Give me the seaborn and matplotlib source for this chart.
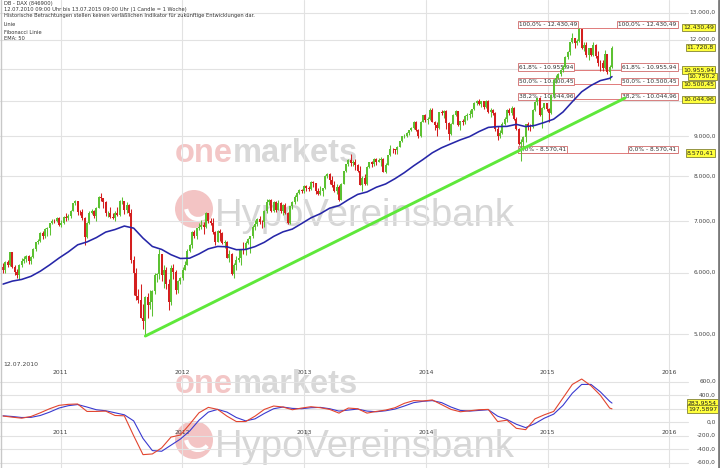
import numpy as np
import pandas as pd
import matplotlib
matplotlib.use("Agg")
import matplotlib.pyplot as plt
import matplotlib.transforms as mtransforms
from matplotlib.patches import Circle, Arc
from matplotlib.lines import Line2D
import seaborn as sns

# ==========================================================
# DATA  (DAX weekly candles 12.07.2010 - 13.07.2015)
# ==========================================================

first_open = 6100

closes = [
    # 2010
    6040, 6194, 6147, 6376, 6110, 6005, 5951, 6135, 6215, 6250, 6298, 6211, 6284,
    6432, 6568, 6601, 6750, 6683, 6826, 6850, 6947, 7007, 6992, 7057, 6914,
    # 2011
    6947, 7076, 7062, 7102, 7216, 7371, 7426, 7185, 7178, 7064, 6664, 6946, 7176,
    7217, 7110, 7273, 7514, 7492, 7411, 7159, 7163, 7087, 7069, 7164, 7121, 7419,
    7419, 7220, 7344, 7158, 6236, 5997, 5602, 5538, 5246, 5190, 5574, 5458, 5502,
    5676, 5967, 5970, 6346, 5966, 6057, 5800, 5493, 6080, 6015, 5702, 5850, 5898,
    # 2012
    6057, 6143, 6404, 6512, 6766, 6692, 6848, 6864, 6921, 6880, 7157, 6996, 6947,
    6775, 6583, 6801, 6761, 6561, 6579, 6271, 6340, 5978, 6130, 6229, 6263, 6416,
    6410, 6557, 6630, 6689, 6865, 6944, 7040, 6971, 6970, 7214, 7412, 7451, 7216,
    7398, 7233, 7380, 7203, 7335, 7163, 6950, 7309, 7405, 7518, 7596, 7672, 7655, 7776,
    # 2013
    7715, 7702, 7857, 7833, 7652, 7593, 7661, 7708, 8004, 8043, 7912, 7795, 7659,
    7744, 7459, 7815, 8122, 8279, 8399, 8305, 8349, 8254, 8127, 7790, 7959, 7806,
    8212, 8331, 8300, 8403, 8338, 8392, 8417, 8104, 8275, 8510, 8676, 8661, 8636,
    8725, 8870, 9001, 9010, 9078, 9168, 9219, 9406, 9172, 9006, 9400, 9589, 9435,
    # 2014
    9473, 9743, 9392, 9306, 9240, 9662, 9656, 9692, 9351, 9057, 9343, 9588, 9695,
    9315, 9409, 9402, 9556, 9581, 9630, 9768, 9943, 9987, 9912, 9987, 9815, 10009,
    9666, 9720, 9644, 9210, 9010, 9093, 9340, 9470, 9747, 9651, 9799, 9490, 9195,
    8788, 8850, 8988, 9326, 9291, 9252, 9732, 9980, 10087, 9594, 9787, 9927, 9765,
    # 2015
    9648, 10168, 10649, 10694, 10846, 10963, 11050, 11402, 11551, 11901, 12040, 11868,
    11967, 12375, 11689, 11811, 11454, 11709, 11447, 11815, 11414, 11197, 11196, 11041,
    11492, 10890, 11059, 11721,
]

highs = [
    6170, 6210, 6240, 6390, 6390, 6140, 6060, 6150, 6260, 6300, 6330, 6330, 6310,
    6450, 6580, 6640, 6770, 6800, 6850, 6880, 6960, 7040, 7040, 7090, 7080,
    7010, 7100, 7160, 7140, 7240, 7390, 7440, 7430, 7230, 7250, 7090, 6970, 7210,
    7260, 7230, 7290, 7530, 7600, 7500, 7420, 7200, 7300, 7170, 7200, 7300, 7440,
    7520, 7430, 7400, 7370, 7250, 6300, 6080, 5720, 5800, 5460, 5600, 5650, 5700,
    5700, 5990, 6000, 6430, 6350, 6130, 6110, 5880, 6130, 6150, 6050, 5870, 5930,
    6110, 6210, 6430, 6540, 6790, 6820, 6860, 6960, 7010, 6980, 7190, 7160, 7050,
    7060, 6800, 6820, 6830, 6780, 6620, 6600, 6420, 6360, 6170, 6300, 6440, 6430,
    6580, 6600, 6660, 6700, 6920, 7010, 7060, 7100, 7020, 7220, 7470, 7480, 7470,
    7420, 7420, 7440, 7400, 7350, 7380, 7190, 7320, 7420, 7550, 7630, 7690, 7700, 7790,
    7790, 7760, 7880, 7870, 7840, 7720, 7770, 7730, 8020, 8060, 8070, 8010, 7870,
    7800, 7780, 7830, 8130, 8290, 8420, 8530, 8400, 8410, 8290, 8250, 8000, 8040,
    8230, 8350, 8360, 8440, 8430, 8430, 8460, 8430, 8310, 8520, 8770, 8700, 8680,
    8750, 8880, 9010, 9070, 9110, 9180, 9250, 9420, 9420, 9200, 9410, 9600, 9620,
    9520, 9790, 9790, 9430, 9380, 9670, 9720, 9730, 9720, 9380, 9370, 9610, 9720,
    9710, 9420, 9470, 9600, 9660, 9720, 9770, 9960, 10030, 10050, 10000, 10010, 10030,
    10030, 9780, 9750, 9670, 9270, 9170, 9400, 9530, 9760, 9800, 9860, 9810, 9530,
    9220, 8920, 9010, 9330, 9380, 9350, 9770, 10000, 10090, 10110, 9830, 9950, 9950,
    9800, 10200, 10660, 10810, 10880, 10990, 11130, 11420, 11600, 11920, 12220, 12060,
    12030, 12430, 12400, 11930, 11920, 11720, 11720, 11920, 11840, 11600, 11300, 11280,
    11640, 11500, 11140, 11760,
]

lows = [
    5990, 5990, 6100, 6120, 6080, 5960, 5900, 5890, 6100, 6170, 6200, 6150, 6150,
    6260, 6400, 6530, 6580, 6640, 6650, 6700, 6720, 6940, 6950, 6980, 6890,
    6880, 6930, 7000, 7010, 7050, 7200, 7330, 7130, 7130, 7020, 6510, 6650, 6930,
    7140, 7060, 6990, 7270, 7420, 7280, 7100, 7080, 7060, 7040, 7000, 7110, 7110,
    7350, 7140, 7170, 7100, 6180, 5610, 5540, 5480, 5240, 5080, 4966, 5250, 5390,
    5270, 5640, 5830, 5880, 5850, 5740, 5720, 5370, 5450, 5880, 5640, 5650, 5800,
    5870, 6040, 6140, 6380, 6460, 6650, 6640, 6810, 6830, 6740, 6860, 6950, 6920,
    6740, 6520, 6570, 6590, 6540, 6450, 6260, 6200, 5960, 5910, 6040, 6200, 6130,
    6350, 6330, 6530, 6360, 6650, 6820, 6890, 6940, 6860, 6870, 7160, 7340, 7180,
    7190, 7190, 7220, 7160, 7130, 7140, 6940, 6940, 7260, 7350, 7430, 7580, 7600, 7600,
    7640, 7640, 7680, 7740, 7580, 7560, 7550, 7530, 7690, 7940, 7820, 7750, 7630,
    7590, 7420, 7440, 7800, 8100, 8240, 8240, 8250, 8150, 8100, 7780, 7650, 7780,
    7780, 8180, 8210, 8240, 8270, 8330, 8240, 8090, 8080, 8260, 8500, 8560, 8540,
    8530, 8720, 8850, 8960, 8990, 9040, 9140, 9200, 9140, 8960, 8980, 9380, 9380,
    9350, 9460, 9380, 9160, 9010, 9200, 9590, 9510, 9200, 8910, 9040, 9330, 9570,
    9290, 9170, 9320, 9340, 9460, 9500, 9540, 9740, 9890, 9880, 9820, 9760, 9800,
    9650, 9540, 9590, 9150, 8900, 8960, 9060, 9320, 9400, 9590, 9590, 9450, 9170,
    8760, 8355, 8710, 8850, 9180, 9150, 9220, 9710, 9880, 9550, 9220, 9760, 9700,
    9380, 9610, 10100, 10560, 10660, 10780, 10890, 11030, 11330, 11480, 11880, 11700,
    11820, 11930, 11660, 11610, 11380, 11300, 11430, 11420, 11350, 11080, 10940, 10920,
    11010, 10840, 10640, 11040,
]

# EMA 50, read every 4 weeks (+ last week)
ema50 = [
    5800, 5852, 5881, 5936, 6027, 6141, 6267, 6383, 6519, 6575, 6660, 6770, 6822,
    6893, 6850, 6650, 6487, 6430, 6330, 6259, 6265, 6344, 6441, 6487, 6481, 6425,
    6429, 6484, 6568, 6684, 6775, 6831, 6945, 7064, 7151, 7269, 7325, 7455, 7573,
    7629, 7736, 7812, 7936, 8079, 8245, 8401, 8571, 8701, 8804, 8907, 8995, 9129,
    9243, 9266, 9271, 9327, 9264, 9299, 9380, 9472, 9676, 9976, 10275, 10471, 10623,
    10694, 10750,
]

# MACD (red) and signal (blue), read every 4 weeks (+ last week)
macd = [
    92, 75, 60, 85, 140, 200, 250, 265, 270, 160, 160, 165, 100, 95, -200, -480,
    -470, -380, -220, -190, -30, 140, 220, 190, 90, 10, 10, 90, 190, 240, 225, 185,
    210, 230, 215, 190, 135, 210, 200, 135, 160, 180, 215, 280, 320, 315, 330, 260,
    190, 155, 170, 185, 190, 10, 30, -90, -110, 50, 110, 160, 360, 560, 640, 540,
    400, 210, 198,
]
signal = [
    95, 85, 70, 72, 100, 150, 210, 245, 262, 225, 185, 170, 140, 110, 20, -240,
    -420, -430, -340, -250, -130, 30, 150, 190, 150, 70, 20, 50, 130, 200, 225, 205,
    200, 215, 220, 200, 165, 180, 195, 165, 155, 170, 195, 240, 290, 310, 320, 290,
    225, 175, 165, 175, 185, 90, 40, -30, -80, -20, 60, 120, 250, 430, 560, 560,
    450, 310, 284,
]

# Trend line (green)
trend_dates = ["2011-09-12", "2015-08-21"]
trend_values = [4970, 10085]

# Fibonacci levels
fib_levels = [12430.49, 10955.94, 10500.45, 10044.96, 8570.41]
fib_labels = ["100,0% - 12.430,49", "61,8% - 10.955,94", "50,0% - 10.500,45",
              "38,2% - 10.044,96", "0,0% - 8.570,41"]
fib_start, fib_end = "2014-10-04", "2016-01-24"

# right-side value boxes
value_boxes = [12430.49, 11720.8, 10955.94, 10500.45, 10044.96, 8570.41]
value_texts = ["12.430,49", "11.720,8", "10.955,94", "10.500,45", "10.044,96", "8.570,41"]
ema_last_text = "10.750,2"
macd_texts = ["283,9554", "197,5897"]
macd_last = [283.9554, 197.5897]

price_ticks = [5000, 6000, 7000, 8000, 9000, 10000, 11000, 12000, 13000]
macd_ticks = [-600, -400, -200, 0, 200, 400, 600]
years = [2011, 2012, 2013, 2014, 2015, 2016]

header = ["DB - DAX (846900)",
          "12.07.2010 09:00 Uhr bis 13.07.2015 09:00 Uhr (1 Candle = 1 Woche)",
          "Historische Betrachtungen stellen keinen verläßlichen Indikator für zukünftige Entwicklungen dar."]
legend_lines = ["Linie", "Fibonacci Linie", "EMA: 50"]

# ==========================================================
# PREPARE
# ==========================================================

weeks = pd.date_range("2010-07-12", periods=len(closes), freq="7D")
opens = [first_open] + closes[:-1]
df = pd.DataFrame({"date": weeks, "open": opens, "close": closes,
                   "high": highs, "low": lows})
df["up"] = df["close"] >= df["open"]

ind_dates = list(weeks[::4]) + [weeks[-1]]
ind = pd.DataFrame({"date": ind_dates, "ema": ema50, "macd": macd, "signal": signal})
trend = pd.DataFrame({"date": pd.to_datetime(trend_dates), "value": trend_values})


def de_num(v, dec=1):
    s = f"{v:,.{dec}f}"
    return s.replace(",", "X").replace(".", ",").replace("X", ".")


# ==========================================================
# FIGURE
# ==========================================================

sns.set_style("white")
plt.rcParams["font.family"] = ["DejaVu Sans"]

W, H = 720, 468
SPLIT = 377
fig = plt.figure(figsize=(7.2, 4.68), dpi=100)
ax = fig.add_axes([0, 1 - SPLIT / H, 1, SPLIT / H])
axm = fig.add_axes([0, 0, 1, (H - SPLIT) / H])

x_left, x_right = pd.Timestamp("2010-07-03"), pd.Timestamp("2016-06-01")
GRID = "#e2e2e2"
TXT = "#444444"

for a in (ax, axm):
    a.set_facecolor("white")
    for s in a.spines.values():
        s.set_visible(False)
    for y in years:
        a.axvline(pd.Timestamp(f"{y}-01-01"), color=GRID, lw=0.8, zorder=1)

# ---------------- main panel ----------------
ax.set_yscale("log")
ax.set_ylim(4400, 13500)
ax.set_xlim(x_left, x_right)

for v in price_ticks:
    ax.axhline(v, xmax=0.955, color=GRID, lw=0.8, zorder=1)
    ax.text(716 / W, v, de_num(v), transform=ax.get_yaxis_transform(),
            ha="right", va="center", fontsize=4.2, color=TXT)

# fibonacci
fs, fe = pd.Timestamp(fib_start), pd.Timestamp(fib_end)
for lvl, lab in zip(fib_levels, fib_labels):
    ax.plot([fs, fe], [lvl, lvl], color="#e07a7a", lw=0.7, zorder=2)
    box = dict(boxstyle="square,pad=0.2", fc="white", ec="#d06a6a", lw=0.6)
    ax.text(fs + pd.Timedelta(days=2), lvl * 1.002, lab, fontsize=4.2, color="#333333",
            ha="left", va="bottom", bbox=box, zorder=2)
    ax.text(fe - pd.Timedelta(days=2), lvl * 1.002, lab, fontsize=4.2, color="#333333",
            ha="right", va="bottom", bbox=box, zorder=2)

# candles
col = np.where(df["up"], "#5cc132", "#d41f1f")
body_lo = df[["open", "close"]].min(axis=1)
body_h = (df["close"] - df["open"]).abs()
ax.vlines(df["date"], df["low"], df["high"], colors=col, lw=0.75, zorder=3)
ax.bar(df["date"], body_h, bottom=body_lo, width=5.6, color=col, lw=0, zorder=3)

# EMA and trend line
sns.lineplot(data=ind, x="date", y="ema", ax=ax, color="#2626a8", lw=1.15, zorder=4)
sns.lineplot(data=trend, x="date", y="value", ax=ax, color="#5ee83a", lw=2.1, zorder=5)

# yellow value boxes
ybox = dict(boxstyle="square,pad=0.2", fc="#ffff3c", ec="#6b6b20", lw=0.5)
for v, t in zip(value_boxes, value_texts):
    ax.text(714 / W, v, t, transform=ax.get_yaxis_transform(), ha="right", va="center",
            fontsize=4.4, color="#222222", bbox=ybox, zorder=6)
ax.text(716 / W, ema50[-1], ema_last_text, transform=ax.get_yaxis_transform(),
        ha="right", va="center", fontsize=4.4, color="#222222", bbox=ybox, zorder=7)

# x labels (main)
for y in years:
    ax.text(pd.Timestamp(f"{y}-01-01"), (SPLIT - 372) / SPLIT, str(y),
            transform=ax.get_xaxis_transform(), ha="center", va="center",
            fontsize=4.4, color=TXT)
ax.text(3 / W, (SPLIT - 365) / SPLIT, "12.07.2010", transform=ax.transAxes,
        ha="left", va="center", fontsize=4.4, color=TXT)

# ---------------- MACD panel ----------------
axm.set_xlim(x_left, x_right)
axm.set_ylim(-678, 670)
for v in macd_ticks:
    axm.axhline(v, xmax=0.955, color=GRID, lw=0.8, zorder=1)
    axm.text(716 / W, v, de_num(v), transform=axm.get_yaxis_transform(),
             ha="right", va="center", fontsize=4.2, color=TXT)

sns.lineplot(data=ind, x="date", y="signal", ax=axm, color="#3a3ad0", lw=0.8, zorder=4)
sns.lineplot(data=ind, x="date", y="macd", ax=axm, color="#e2452f", lw=0.8, zorder=4)

for v, t in zip(macd_last, macd_texts):
    axm.text(717 / W, v, t, transform=axm.get_yaxis_transform(), ha="right",
             va="center", fontsize=4.4, color="#222222", bbox=ybox, zorder=6)

for y in years:
    axm.text(pd.Timestamp(f"{y}-01-01"), (H - 432) / (H - SPLIT), str(y),
             transform=axm.get_xaxis_transform(), ha="center", va="center",
             fontsize=4.4, color=TXT)

for a in (ax, axm):
    a.set_xlabel("")
    a.set_ylabel("")
    a.set_xticks([])
    a.set_yticks([])
    a.set_yticks([], minor=True)

# ---------------- watermarks ----------------
px = mtransforms.IdentityTransform()


def watermark(a, base_y):
    t1 = a.text(175 / W, 1 - base_y / H, "one", transform=fig.transFigure,
                family="Liberation Sans", weight="bold", fontsize=23.5,
                color="#f3c6c6", va="baseline", zorder=0)
    fig.canvas.draw()
    bb = t1.get_window_extent(renderer=fig.canvas.get_renderer())
    a.text(bb.x1 / W, 1 - base_y / H, "markets", transform=fig.transFigure,
           family="Liberation Sans", weight="bold", fontsize=23.5,
           color="#d8d8d8", va="baseline", zorder=0)
    a.text(215 / W, 1 - (base_y + 64) / H, "HypoVereinsbank", transform=fig.transFigure,
           family="Liberation Sans", fontsize=27.5, color="#d6d6d6", va="baseline", zorder=0)
    cy = H - (base_y + 47)
    a.add_artist(Circle((194, cy), 19, transform=px, fc="#f3c4c4", ec="none", zorder=0))
    a.add_artist(Arc((198, cy + 2), 24, 24, theta1=190, theta2=320, transform=px,
                     color="white", lw=3, zorder=0))

watermark(ax, 162)
watermark(axm, 393)

# ---------------- header ----------------
for i, t in enumerate(header):
    fig.text(4 / W, 1 - [4, 10, 16][i] / H, t, fontsize=3.7, color="#333333", va="center")
for i, t in enumerate(legend_lines):
    fig.text(4 / W, 1 - [25, 32, 39][i] / H, t, fontsize=3.7, color="#333333", va="center")

# frame lines
fig.add_artist(Line2D([0.5 / W, 0.5 / W], [0, 1], color="#c8c8c8", lw=1))
fig.add_artist(Line2D([718.5 / W, 718.5 / W], [0, 1], color="#7a7a7a", lw=2))

fig.savefig("out.png", dpi=100)
print("saved out.png")
